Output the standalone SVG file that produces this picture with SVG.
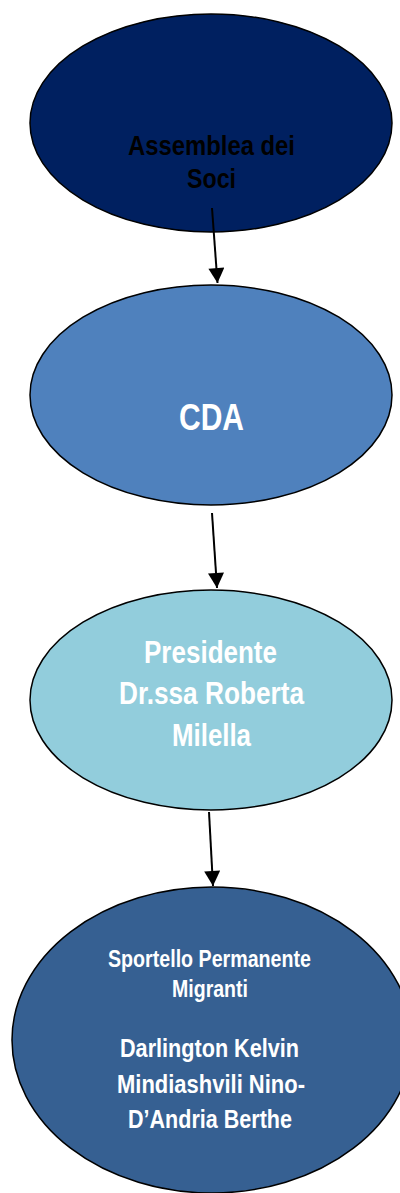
<svg xmlns="http://www.w3.org/2000/svg" width="400" height="1193" viewBox="0 0 400 1193">
<style>
.node{stroke:#000;stroke-width:1.5}
.t{font-family:"Liberation Sans Narrow","Liberation Sans",Arial,sans-serif;font-weight:bold;text-anchor:middle}
.w{fill:#fff}
.k{fill:#000}
.conn{stroke:#000;stroke-width:2;fill:none}
</style>
<defs>
<marker id="ah" markerUnits="userSpaceOnUse" markerWidth="16" markerHeight="16" viewBox="0 0 15 16" refX="15" refY="8" orient="auto">
<path d="M0,0 L15,8 L0,16 Z" fill="#000"/>
</marker>
</defs>
<rect width="400" height="1193" fill="#fff"/>
<g id="assemblea">
<ellipse class="node" cx="211" cy="123" rx="181" ry="109" fill="#002060"/>
<text class="t k" x="211.5" y="155" font-size="28" textLength="167" lengthAdjust="spacingAndGlyphs">Assemblea dei</text>
<text class="t k" x="211.5" y="188" font-size="28" textLength="49" lengthAdjust="spacingAndGlyphs">Soci</text>
</g>
<g id="cda">
<ellipse class="node" cx="211" cy="395" rx="181" ry="110" fill="#4F81BD"/>
<text class="t w" x="211.5" y="430" font-size="36" textLength="65" lengthAdjust="spacingAndGlyphs">CDA</text>
</g>
<g id="presidente">
<ellipse class="node" cx="211" cy="700" rx="181" ry="110" fill="#92CDDC"/>
<text class="t w" x="210.5" y="663" font-size="31" textLength="133" lengthAdjust="spacingAndGlyphs">Presidente</text>
<text class="t w" x="211.5" y="704" font-size="31" textLength="185" lengthAdjust="spacingAndGlyphs">Dr.ssa Roberta</text>
<text class="t w" x="211.5" y="746" font-size="31" textLength="79" lengthAdjust="spacingAndGlyphs">Milella</text>
</g>
<g id="sportello">
<ellipse class="node" cx="212" cy="1040" rx="200" ry="153" fill="#366092"/>
<text class="t w" x="209.5" y="967" font-size="23" textLength="203" lengthAdjust="spacingAndGlyphs">Sportello Permanente</text>
<text class="t w" x="210" y="997" font-size="23" textLength="76" lengthAdjust="spacingAndGlyphs">Migranti</text>
<text class="t w" x="209.5" y="1057" font-size="26" textLength="179" lengthAdjust="spacingAndGlyphs">Darlington Kelvin</text>
<text class="t w" x="211" y="1093" font-size="26" textLength="188" lengthAdjust="spacingAndGlyphs">Mindiashvili Nino-</text>
<text class="t w" x="210" y="1128" font-size="26" textLength="164" lengthAdjust="spacingAndGlyphs">D’Andria Berthe</text>
</g>
<g id="connectors">
<line class="conn" x1="212" y1="208" x2="217.5" y2="283" marker-end="url(#ah)"/>
<line class="conn" x1="212" y1="513" x2="217" y2="588" marker-end="url(#ah)"/>
<line class="conn" x1="209" y1="812" x2="213" y2="886" marker-end="url(#ah)"/>
</g>
</svg>
